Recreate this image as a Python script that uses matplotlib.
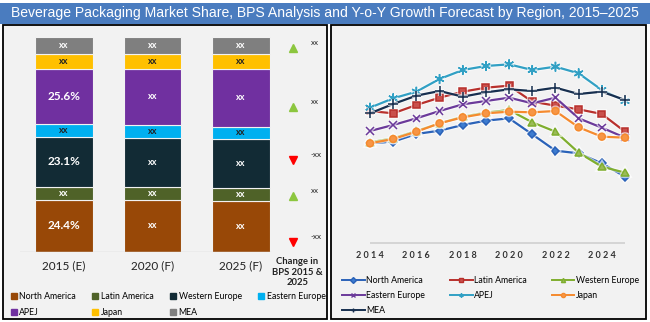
import matplotlib.pyplot as plt
from matplotlib.patches import Rectangle
from matplotlib.lines import Line2D
import matplotlib.patheffects as pe

W, H = 650, 322

# stacked share bars (percent)
years_bar = ["2015 (E)", "2020 (F)", "2025 (F)"]
regions = ["North America", "Latin America", "Western Europe", "Eastern Europe",
           "APEJ", "Japan", "MEA"]
share_na = [24.4, 24.2, 23.8]
share_la = [6.0, 6.0, 6.0]
share_we = [23.1, 22.9, 22.8]
share_ee = [6.0, 6.0, 5.6]
share_apej = [25.6, 26.0, 27.0]
share_jp = [7.0, 7.0, 7.0]
share_mea = [7.9, 7.9, 7.8]
bar_labels = [["24.4%", "xx", "23.1%", "xx", "25.6%", "xx", "xx"],
              ["xx"] * 7, ["xx"] * 7]

# bps change markers (level on the share axis, direction, label)
bps_level = [94.9, 67.4, 42.8, 26.0, 4.7]
bps_up = [True, True, False, True, False]
bps_text = ["xx", "xx", "-xx", "xx", "-xx"]

# y-o-y growth index by region
years = list(range(2014, 2026))
g_na = [12.5, 13.0, 15.3, 16.3, 18.0, 19.3, 20.0, 15.2, 10.3, 9.5, 6.5, 2.5]
g_la = [22.2, 21.5, 24.0, 26.2, 28.0, 29.2, 29.8, 25.0, 23.8, 22.7, 21.3, 16.0]
g_we = [12.8, 14.0, 16.2, 18.5, 20.5, 21.7, 22.5, 18.8, 16.0, 9.7, 5.5, 3.7]
g_ee = [16.2, 18.0, 20.0, 22.2, 24.2, 25.2, 26.2, 24.5, 26.2, 20.0, 17.2, 14.2]
g_apej = [23.2, 26.0, 28.0, 31.8, 34.5, 35.7, 36.2, 34.5, 35.5, 33.5, 28.5, 25.2]
g_jp = [12.5, 13.8, 16.0, 18.5, 20.3, 21.5, 22.0, 21.8, 22.2, 17.3, 14.5, 14.2]
g_mea = [21.5, 24.3, 26.8, 28.2, 26.5, 27.8, 28.7, 28.2, 29.2, 27.3, 28.0, 25.5]
tick_years = [2014, 2016, 2018, 2020, 2022, 2024]

bar_colors = ["#984807", "#4f6228", "#122b35", "#00b0f0", "#7030a0", "#ffc000", "#7f7f7f"]
text_colors = ["white", "white", "white", "#222222", "white", "#222222", "white"]

plt.rcParams['font.family'] = ['Lato', 'DejaVu Sans']


def fx(x):
    return x / W


def fy(y):
    return 1 - y / H


fig = plt.figure(figsize=(W / 100, H / 100), dpi=100)
fig.patch.set_facecolor("white")

# title band
fig.patches.append(Rectangle((0, fy(24)), 1, (24 - 3) / H, transform=fig.transFigure,
                             facecolor="#4a7cbf", edgecolor="none", zorder=-2))
fig.text(0.5, fy(13.5), "Beverage Packaging Market Share, BPS Analysis and Y-o-Y Growth "
         "Forecast by Region, 2015\u20132025", ha="center", va="center", color="white",
         fontsize=10.1, family="Liberation Sans")

# two panels
for x0, x1 in [(3, 327), (331, 646)]:
    fig.patches.append(Rectangle((fx(x0), fy(319)), (x1 - x0) / W, (319 - 25) / H,
                                 transform=fig.transFigure, facecolor="#f2f2f2",
                                 edgecolor="black", linewidth=1.3, zorder=-2))

# ---- left: stacked bars ----
ax = fig.add_axes([fx(20), fy(252), (315 - 20) / W, (252 - 37) / H])
ax.set_facecolor("none")
series = [share_na, share_la, share_we, share_ee, share_apej, share_jp, share_mea]
pos = [0, 1, 2]
bottom = [0, 0, 0]
for k, vals in enumerate(series):
    ax.bar(pos, vals, width=0.655, bottom=bottom, color=bar_colors[k],
           edgecolor="#f2f2f2", linewidth=0.8)
    for i in pos:
        lab = bar_labels[i][k]
        big = lab.endswith("%")
        ax.text(i, bottom[i] + vals[i] / 2, lab, ha="center", va="center",
                color=text_colors[k], fontsize=8.5 if big else 6.5,
                fontweight="bold")
    bottom = [b + v for b, v in zip(bottom, vals)]

for lvl, up, t in zip(bps_level, bps_up, bps_text):
    ax.plot(2.588, lvl, marker="^" if up else "v", color="#8cc63f" if up else "#ff0000",
            markersize=5.5, clip_on=False, linestyle="none")
    ax.text(2.79, lvl + 2.5, t, fontsize=5.8, ha="left", va="center", color="#222222")

ax.text(2.635, -2.3, "Change in\nBPS 2015 &\n2025", ha="center", va="top",
        fontsize=6.8, fontweight="bold", color="#222222", linespacing=1.25)

ax.set_xlim(-0.497, 2.836)
ax.set_ylim(0, 100)
ax.axhline(0, xmin=0, xmax=(270 - 20) / (315 - 20), color="#d0d0d0", linewidth=1)
for s in ax.spines.values():
    s.set_visible(False)
ax.set_yticks([])
ax.set_xticks(pos)
ax.set_xticklabels(years_bar, fontsize=8.5, color="#222222")
ax.tick_params(axis="x", length=0, pad=6)

handles = [Line2D([], [], marker="s", linestyle="none", color=c, markersize=4)
           for c in bar_colors]
order = [0, 4, 1, 5, 2, 6, 3]
fig.legend([handles[i] for i in order], [regions[i] for i in order], ncol=4,
           loc="upper left", bbox_to_anchor=(fx(11), fy(292)), frameon=False,
           fontsize=6.3, handlelength=0.6, handletextpad=0.35, columnspacing=1.9,
           labelspacing=0.75, borderaxespad=0, borderpad=0)

# ---- right: growth lines ----
ax2 = fig.add_axes([fx(360), fy(243), (635 - 360) / W, (243 - 30) / H])
ax2.set_facecolor("none")
lines = [
    (g_na, "#2a62b8", "D", 4, "North America"),
    (g_la, "#b8302c", "s", 5, "Latin America"),
    (g_we, "#7fae2e", "^", 5.5, "Western Europe"),
    (g_ee, "#6b3a9a", "x", 5.5, "Eastern Europe"),
    (g_apej, "#31a0c4", (6, 2, 0), 7, "APEJ"),
    (g_jp, "#f58a2e", "o", 5, "Japan"),
    (g_mea, "#172f4f", "+", 7, "MEA"),
]
leg_handles = []
for vals, col, mk, ms, name in lines:
    face = {"North America": "#3d7cd0", "Latin America": "#c9504c",
            "Western Europe": "#9bbb59", "Japan": "#f79646"}.get(name, col)
    ax2.plot(years, vals, color=col, linewidth=1.6, marker=mk, markersize=ms,
             markerfacecolor=face, markeredgecolor=col, markeredgewidth=1.1,
             path_effects=[pe.Stroke(linewidth=3, foreground="white", alpha=0.6), pe.Normal()])
    leg_handles.append(Line2D([], [], color=col, linewidth=1.4, marker=mk, markersize=3,
                              markerfacecolor=face, markeredgecolor=col))

ax2.set_xlim(2014 - 10 / 23.18, 2025 + 10 / 23.18)
ax2.set_ylim(-17.4, 46.5)
ax2.hlines(-17.4, 2014, 2025, color="#d0d0d0", linewidth=1.2, clip_on=False)
for s in ax2.spines.values():
    s.set_visible(False)
ax2.set_yticks([])
ax2.set_xticks(tick_years)
ax2.set_xticklabels([" ".join(str(y)) for y in tick_years], fontsize=6.5,
                    fontweight="bold", color="#333333")
ax2.tick_params(axis="x", length=0, pad=6)

names = [l[4] for l in lines]
order2 = [0, 3, 6, 1, 4, 2, 5]
fig.legend([leg_handles[i] for i in order2], [names[i] for i in order2], ncol=3,
           loc="upper left", bbox_to_anchor=(fx(342), fy(276)), frameon=False,
           fontsize=6.3, handlelength=2.6, handletextpad=0.2, columnspacing=2.8,
           labelspacing=0.7, borderaxespad=0, borderpad=0)

fig.savefig("out.png", dpi=100, facecolor=fig.get_facecolor())
